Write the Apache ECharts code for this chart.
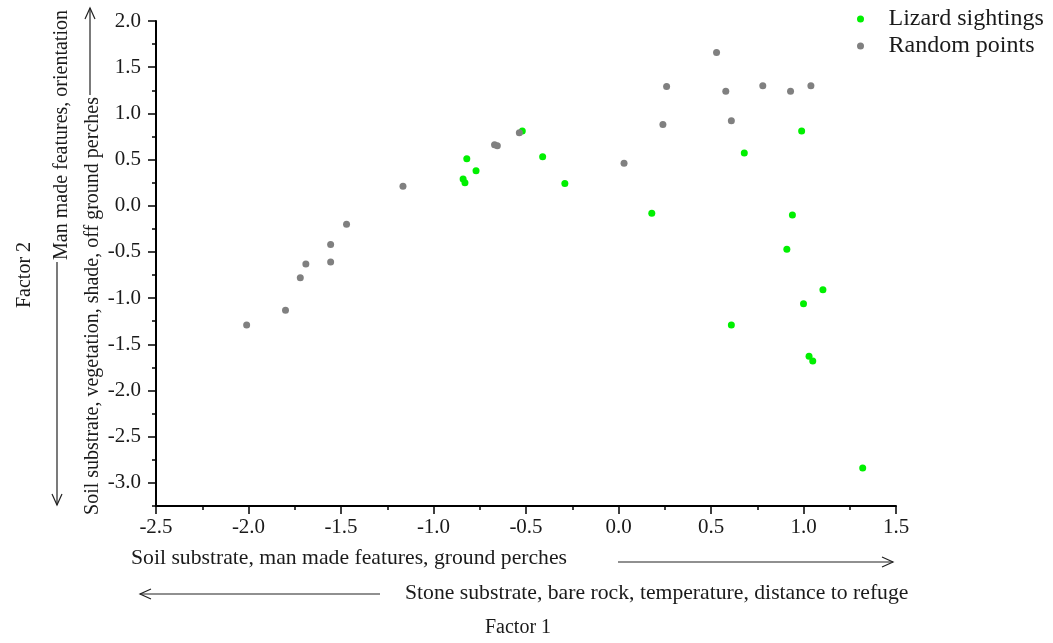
<!DOCTYPE html>
<html>
<head>
<meta charset="utf-8">
<script src="https://cdn.jsdelivr.net/npm/echarts@6/dist/echarts.min.js"></script>
<style>html,body{margin:0;padding:0;background:#fff;}#c{width:1053px;height:643px;}</style>
</head>
<body>
<div id="c"></div>
<script>
// Factor scores
const lizardX = [-0.52, -0.82, -0.77, -0.84, -0.83, -0.41, -0.29, 0.18, 0.99, 0.68, 0.94, 0.91, 1.105, 1.0, 0.61, 1.03, 1.05, 1.32];
const lizardY = [0.81, 0.51, 0.38, 0.29, 0.25, 0.53, 0.24, -0.08, 0.81, 0.57, -0.10, -0.47, -0.91, -1.06, -1.29, -1.63, -1.68, -2.84];
const randomX = [-2.01, -1.80, -1.72, -1.69, -1.556, -1.556, -1.47, -1.165, -0.67, -0.655, -0.536, 0.03, 0.24, 0.26, 0.53, 0.58, 0.61, 0.78, 0.93, 1.04];
const randomY = [-1.29, -1.13, -0.78, -0.63, -0.61, -0.42, -0.20, 0.21, 0.66, 0.65, 0.79, 0.46, 0.88, 1.29, 1.66, 1.24, 0.92, 1.30, 1.24, 1.30];
const yMajorTicks = [-3.0, -2.5, -2.0, -1.5, -1.0, -0.5, 0.0, 0.5, 1.0, 1.5, 2.0];
const seriesNames = ['Lizard sightings', 'Random points'];
const xTitleTop = 'Soil substrate, man made features, ground perches';
const xTitleBottom = 'Stone substrate, bare rock, temperature, distance to refuge';
const xTitle = 'Factor 1';
const yTitleLeft = 'Soil substrate, vegetation, shade, off ground perches';
const yTitleRight = 'Man made features, orientation';
const yTitle = 'Factor 2';

const FONT = '"Liberation Serif", "Times New Roman", serif';
const INK = '#1a1a1a';
const pairs = (xs, ys) => xs.map((x, i) => [x, ys[i]]);

const chart = echarts.init(document.getElementById('c'), null, {renderer: 'canvas'});

function txt(s, x, y, opts) {
  return Object.assign({
    type: 'text', x: x, y: y,
    style: {text: s, font: '20px ' + FONT, fill: INK, textAlign: 'center', textVerticalAlign: 'middle'}
  }, opts || {});
}
const arrowStyle = {stroke: '#222', lineWidth: 1.2, fill: null};

chart.setOption({
  animation: false,
  backgroundColor: '#fff',
  grid: {left: 156, right: 157, top: 21, bottom: 137, containLabel: false},
  legend: {
    orient: 'vertical', left: 852, top: 2, itemWidth: 46, itemHeight: 7, itemGap: 3,
    icon: 'circle',
    textStyle: {fontFamily: FONT, fontSize: 24, color: INK},
    data: seriesNames
  },
  xAxis: {
    type: 'value', min: -2.5, max: 1.5, interval: 0.5,
    axisLine: {show: true, onZero: false, lineStyle: {color: '#000', width: 2}},
    axisTick: {show: true, inside: false, length: 8, lineStyle: {color: '#000', width: 1.5}},
    minorTick: {show: true, splitNumber: 2, length: 4, lineStyle: {color: '#000', width: 1.5}},
    axisLabel: {fontFamily: FONT, fontSize: 21, color: INK, margin: 11, formatter: v => v.toFixed(1)},
    splitLine: {show: false}
  },
  yAxis: [{
    type: 'value', min: -3.25, max: 2.0, interval: 0.25, position: 'left',
    axisLine: {show: true, onZero: false, lineStyle: {color: '#000', width: 2}},
    axisTick: {show: true, inside: false, length: 4, lineStyle: {color: '#000', width: 1.5}},
    axisLabel: {
      fontFamily: FONT, fontSize: 21, color: INK, margin: 15,
      formatter: v => (Math.abs(v * 2 - Math.round(v * 2)) < 1e-6 ? v.toFixed(1) : '')
    },
    splitLine: {show: false}
  }, {
    type: 'value', min: -3.25, max: 2.0, position: 'left',
    axisLine: {show: false, onZero: false},
    axisTick: {show: true, inside: false, length: 8, customValues: yMajorTicks, lineStyle: {color: '#000', width: 1.5}},
    axisLabel: {show: false},
    splitLine: {show: false}
  }],
  series: [{
    name: seriesNames[0], type: 'scatter', yAxisIndex: 0, symbolSize: 7,
    itemStyle: {color: '#00f000', opacity: 1},
    data: pairs(lizardX, lizardY)
  }, {
    name: seriesNames[1], type: 'scatter', yAxisIndex: 0, symbolSize: 7,
    itemStyle: {color: '#808080', opacity: 1},
    data: pairs(randomX, randomY)
  }],
  graphic: [
    txt(xTitleTop, 131, 558, {style: {text: xTitleTop, font: '21.7px ' + FONT, fill: INK, textAlign: 'left', textVerticalAlign: 'middle'}}),
    {type: 'polyline', shape: {points: [[618, 562], [893, 562]]}, style: arrowStyle},
    {type: 'polyline', shape: {points: [[882, 557], [893, 562], [882, 567]]}, style: arrowStyle},
    {type: 'polyline', shape: {points: [[140, 594], [380, 594]]}, style: arrowStyle},
    {type: 'polyline', shape: {points: [[151, 589], [140, 594], [151, 599]]}, style: arrowStyle},
    txt(xTitleBottom, 405, 593, {style: {text: xTitleBottom, font: '21.7px ' + FONT, fill: INK, textAlign: 'left', textVerticalAlign: 'middle'}}),
    txt(xTitle, 518, 628),
    txt(yTitle, 25, 275, {rotation: Math.PI / 2}),
    txt(yTitleRight, 62, 135, {rotation: Math.PI / 2}),
    {type: 'polyline', shape: {points: [[90, 95], [90, 8]]}, style: arrowStyle},
    {type: 'polyline', shape: {points: [[85, 19], [90, 8], [95, 19]]}, style: arrowStyle},
    txt(yTitleLeft, 93, 306, {rotation: Math.PI / 2}),
    {type: 'polyline', shape: {points: [[57, 262], [57, 505]]}, style: arrowStyle},
    {type: 'polyline', shape: {points: [[52, 494], [57, 505], [62, 494]]}, style: arrowStyle}
  ]
});
</script>
</body>
</html>
